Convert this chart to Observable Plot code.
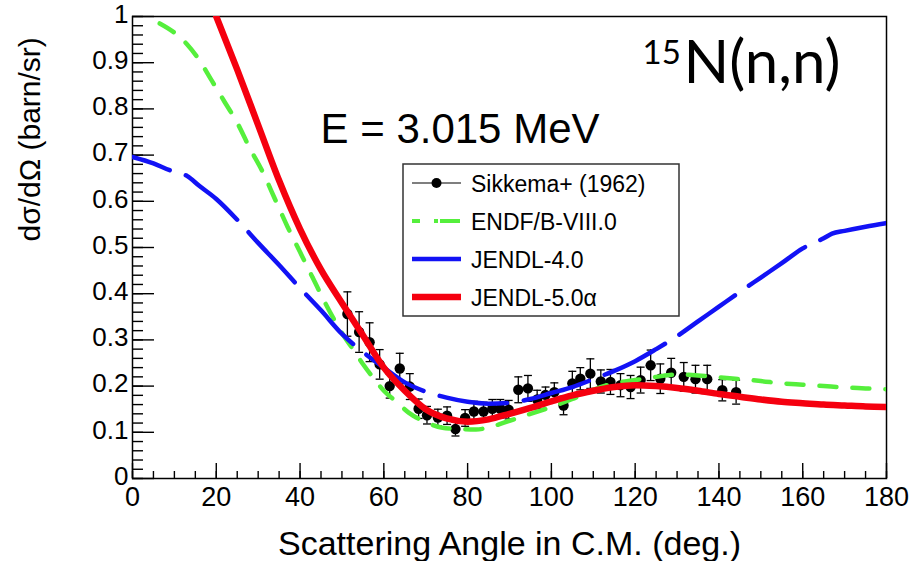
<!DOCTYPE html>
<html>
<head>
<meta charset="utf-8">
<script src="https://cdn.jsdelivr.net/npm/d3@7"></script>
<script src="https://cdn.jsdelivr.net/npm/@observablehq/plot@0.6"></script>
<style>
  html, body { margin: 0; padding: 0; background: #fff; }
  #chart { width: 915px; height: 561px; }
</style>
</head>
<body>
<div id="chart"></div>
<script>
// 15N(n,n) elastic angular distribution at E = 3.015 MeV

// Sikkema+ (1962) measurement: C.M. angle (deg), dσ/dΩ (barn/sr), uncertainty
const expAngle = [51.3, 54.1, 56.6, 59.0, 61.4, 63.8, 66.2, 68.3, 70.3, 72.9,
  75.1, 77.1, 79.4, 81.5, 83.8, 85.9, 87.8, 89.8, 92.1, 94.4,
  96.6, 98.6, 100.7, 102.9, 105.0, 106.9, 109.3, 111.8, 114.1, 116.5,
  118.9, 121.3, 123.7, 126.0, 128.6, 131.6, 134.4, 137.2, 140.8, 144.1];
const expValue = [0.356, 0.317, 0.295, 0.247, 0.200, 0.238, 0.199, 0.151, 0.137, 0.132,
  0.136, 0.107, 0.131, 0.145, 0.145, 0.151, 0.151, 0.149, 0.192, 0.195,
  0.171, 0.181, 0.187, 0.158, 0.206, 0.216, 0.227, 0.210, 0.209, 0.202,
  0.198, 0.213, 0.245, 0.216, 0.229, 0.220, 0.215, 0.215, 0.191, 0.187];
const expError = [0.048, 0.044, 0.042, 0.032, 0.026, 0.033, 0.028, 0.021, 0.019, 0.018,
  0.019, 0.015, 0.018, 0.022, 0.020, 0.020, 0.020, 0.020, 0.028, 0.028,
  0.020, 0.017, 0.020, 0.020, 0.026, 0.024, 0.032, 0.025, 0.027, 0.025,
  0.025, 0.028, 0.033, 0.032, 0.031, 0.031, 0.030, 0.030, 0.023, 0.026];

// ENDF/B-VIII.0 evaluation
const endfAngle = [6.5, 10, 13, 16, 19, 22, 25, 28, 31, 34, 37, 40, 43, 46, 50, 53, 55, 58, 60,
  63, 66, 70, 74, 78, 82, 86, 90, 95, 100, 105, 110, 115, 120, 125, 130, 135, 140,
  145, 150, 155, 160, 165, 170, 175, 180];
const endfXs = [0.985, 0.965, 0.940, 0.905, 0.860, 0.815, 0.770, 0.715, 0.665, 0.605, 0.545,
  0.490, 0.435, 0.380, 0.315, 0.275, 0.248, 0.212, 0.190, 0.166, 0.142, 0.122, 0.110,
  0.107, 0.106, 0.113, 0.125, 0.140, 0.155, 0.172, 0.192, 0.206, 0.213, 0.220, 0.225,
  0.223, 0.219, 0.215, 0.211, 0.206, 0.203, 0.200, 0.197, 0.195, 0.193];

// JENDL-4.0 evaluation
const jendl4Angle = [0, 5, 9, 13, 16, 20, 25, 30, 35, 40, 45, 50, 55, 60, 65, 70, 75, 80, 85,
  90, 95, 100, 105, 110, 115, 120, 125, 130, 135, 140, 145, 150, 155, 160, 165, 167,
  170, 175, 180];
const jendl4Xs = [0.696, 0.682, 0.667, 0.655, 0.633, 0.605, 0.560, 0.510, 0.462, 0.412, 0.364,
  0.313, 0.274, 0.240, 0.208, 0.188, 0.175, 0.166, 0.162, 0.164, 0.172, 0.185, 0.198,
  0.215, 0.233, 0.254, 0.280, 0.308, 0.340, 0.372, 0.404, 0.435, 0.466, 0.498, 0.520,
  0.530, 0.536, 0.545, 0.553];

// JENDL-5.0α evaluation
const jendl5Angle = [20, 25, 30, 35, 40, 45, 50, 55, 60, 65, 70, 75, 80, 85, 90, 95, 100, 105,
  110, 115, 120, 125, 130, 135, 140, 145, 150, 155, 160, 165, 170, 175, 180];
const jendl5Xs = [1.0, 0.885, 0.765, 0.645, 0.540, 0.452, 0.380, 0.310, 0.240, 0.190, 0.150,
  0.130, 0.123, 0.128, 0.140, 0.153, 0.167, 0.180, 0.190, 0.198, 0.202, 0.200, 0.196,
  0.190, 0.183, 0.177, 0.171, 0.166, 0.163, 0.160, 0.158, 0.156, 0.155];

// Axis ticks
const xMajorTicks = [0, 20, 40, 60, 80, 100, 120, 140, 160, 180];
const xMinorTicks = d3.range(0, 181, 5);
const yMajorTicks = [0, 0.1, 0.2, 0.3, 0.4, 0.5, 0.6, 0.7, 0.8, 0.9, 1];
const yMinorTicks = d3.range(0, 51).map(i => i / 50);

// Legend entries
const legendLabels = ["Sikkema+ (1962)", "ENDF/B-VIII.0", "JENDL-4.0", "JENDL-5.0α"];

const zipCurve = (a, v) => a.map((x, i) => ({angle: x, xs: v[i]}));
const expData = expAngle.map((x, i) => ({angle: x, xs: expValue[i], err: expError[i]}));
const endf = zipCurve(endfAngle, endfXs);
const jendl4 = zipCurve(jendl4Angle, jendl4Xs);
const jendl5 = zipCurve(jendl5Angle, jendl5Xs);

const GREEN = "#55ef3c", BLUE = "#1212f5", RED = "#f5000f";
const SANS = "'Liberation Sans', Arial, Helvetica, sans-serif";
const CALI = "Lato, 'Open Sans', sans-serif";

// horizontal cap for the error bars
const capSymbol = {draw(ctx) { ctx.moveTo(-4, 0); ctx.lineTo(4, 0); }};

const blank = () => "";
const yFormat = d => (d === 0 || d === 1) ? String(d) : d.toFixed(1);

const plot = Plot.plot({
  width: 915,
  height: 561,
  marginLeft: 132,
  marginRight: 29,
  marginTop: 16,
  marginBottom: 83,
  style: {fontFamily: SANS, background: "#fff", color: "#000"},
  x: {domain: [0, 180], axis: null, label: null},
  y: {domain: [0, 1], axis: null, label: null},
  marks: [
    // tick labels
    Plot.axisX({ticks: xMajorTicks, tickSize: 0, tickPadding: 8, fontSize: 27, label: null}),
    Plot.axisY({ticks: yMajorTicks, tickSize: 0, tickPadding: 4, dy: -2, fontSize: 26, tickFormat: yFormat, label: null}),
    // inward tick marks
    Plot.axisX({ticks: xMinorTicks, tickSize: 7, dy: -7, tickFormat: blank, label: null, strokeWidth: 1.4}),
    Plot.axisX({ticks: xMajorTicks, tickSize: 15, dy: -15, tickFormat: blank, label: null, strokeWidth: 1.4}),
    Plot.axisY({ticks: yMinorTicks, tickSize: 11, dx: 11, tickFormat: blank, label: null, strokeWidth: 1.4}),
    Plot.axisY({ticks: yMajorTicks, tickSize: 22, dx: 22, tickFormat: blank, label: null, strokeWidth: 1.4}),
    Plot.frame({stroke: "#000", strokeWidth: 1.5}),

    // measurement
    Plot.ruleX(expData, {x: "angle", y1: d => d.xs - d.err, y2: d => d.xs + d.err, stroke: "#000", strokeWidth: 1.3}),
    Plot.dot(expData, {x: "angle", y: d => d.xs - d.err, symbol: capSymbol, stroke: "#000", strokeWidth: 1.3, r: 4}),
    Plot.dot(expData, {x: "angle", y: d => d.xs + d.err, symbol: capSymbol, stroke: "#000", strokeWidth: 1.3, r: 4}),
    Plot.dot(expData, {x: "angle", y: "xs", r: 5.2, fill: "#000", stroke: null}),

    // evaluations
    Plot.line(endf, {x: "angle", y: "xs", stroke: GREEN, strokeWidth: 4.5, strokeDasharray: "17,16", curve: "monotone-x", clip: true}),
    Plot.line(jendl4, {x: "angle", y: "xs", stroke: BLUE, strokeWidth: 4.5, strokeDasharray: "68,17", curve: "monotone-x", clip: true}),
    Plot.line(jendl5, {x: "angle", y: "xs", stroke: RED, strokeWidth: 6.5, curve: "monotone-x", clip: true}),

    // titles
    Plot.text(["E = 3.015 MeV"], {frameAnchor: "top-left", dx: 188, dy: 126, lineAnchor: "bottom", textAnchor: "start", fontSize: 42}),
    Plot.text(["15"], {frameAnchor: "top-left", dx: 510, dy: 47, lineAnchor: "bottom", textAnchor: "start", fontSize: 33, fontFamily: CALI}),
    Plot.text(["N(n,n)"], {frameAnchor: "top-left", dx: 551, dy: 66, lineAnchor: "bottom", textAnchor: "start", fontSize: 60, fontFamily: CALI}),
    Plot.text(["Scattering Angle in C.M. (deg.)"], {frameAnchor: "bottom", dy: 76, lineAnchor: "bottom", fontSize: 34}),
    Plot.text(["dσ/dΩ (barn/sr)"], {frameAnchor: "left", dx: -102, dy: -6, rotate: -90, lineAnchor: "middle", fontSize: 30})
  ]
});

// line up the dash patterns along each curve: put a gap / dash centre at a chosen angle
const xScale = plot.scale("x");
function alignDash(path, xPx, period, phase) {
  const total = path.getTotalLength();
  let best = 0, bestD = Infinity;
  for (let s = 0; s <= total; s += 1) {
    const d = Math.abs(path.getPointAtLength(s).x - xPx);
    if (d < bestD) { bestD = d; best = s; }
  }
  const off = ((phase - best) % period + period) % period;
  path.setAttribute("stroke-dashoffset", off);
}

document.getElementById("chart").appendChild(plot);

const linePaths = d3.select(plot).selectAll('g[aria-label="line"] path').nodes();
// green: dash centred near 89 deg; blue: gap centred near 91.5 deg
alignDash(linePaths[0], xScale.apply(89), 33, 8.5);
alignDash(linePaths[1], xScale.apply(91.5), 85, 76.5);

// legend box drawn inside the frame
const lg = d3.select(plot).append("g").attr("font-family", SANS).attr("text-anchor", "start");
lg.append("rect").attr("x", 403).attr("y", 164).attr("width", 276).attr("height", 152)
  .attr("fill", "#fff").attr("stroke", "#333").attr("stroke-width", 1.5);
const rowY = i => 183 + i * 38;
const sx0 = 412, sx1 = 461;
// Sikkema: thin line with a dot
lg.append("line").attr("x1", sx0).attr("x2", sx1).attr("y1", rowY(0)).attr("y2", rowY(0)).attr("stroke", "#000").attr("stroke-width", 1.2);
lg.append("circle").attr("cx", (sx0 + sx1) / 2).attr("cy", rowY(0)).attr("r", 5).attr("fill", "#000");
// ENDF: dashed green
lg.append("line").attr("x1", sx0).attr("x2", sx1).attr("y1", rowY(1)).attr("y2", rowY(1)).attr("stroke", GREEN).attr("stroke-width", 4).attr("stroke-dasharray", "8,14,4,2,20");
// JENDL-4.0: blue
lg.append("line").attr("x1", sx0).attr("x2", sx1).attr("y1", rowY(2)).attr("y2", rowY(2)).attr("stroke", BLUE).attr("stroke-width", 4.5);
// JENDL-5.0α: red
lg.append("line").attr("x1", sx0).attr("x2", sx1).attr("y1", rowY(3)).attr("y2", rowY(3)).attr("stroke", RED).attr("stroke-width", 6.5);
legendLabels.forEach((t, i) => {
  lg.append("text").attr("x", 471).attr("y", rowY(i) + 8.5).attr("font-size", 23).attr("fill", "#000").text(t);
});
</script>
</body>
</html>
